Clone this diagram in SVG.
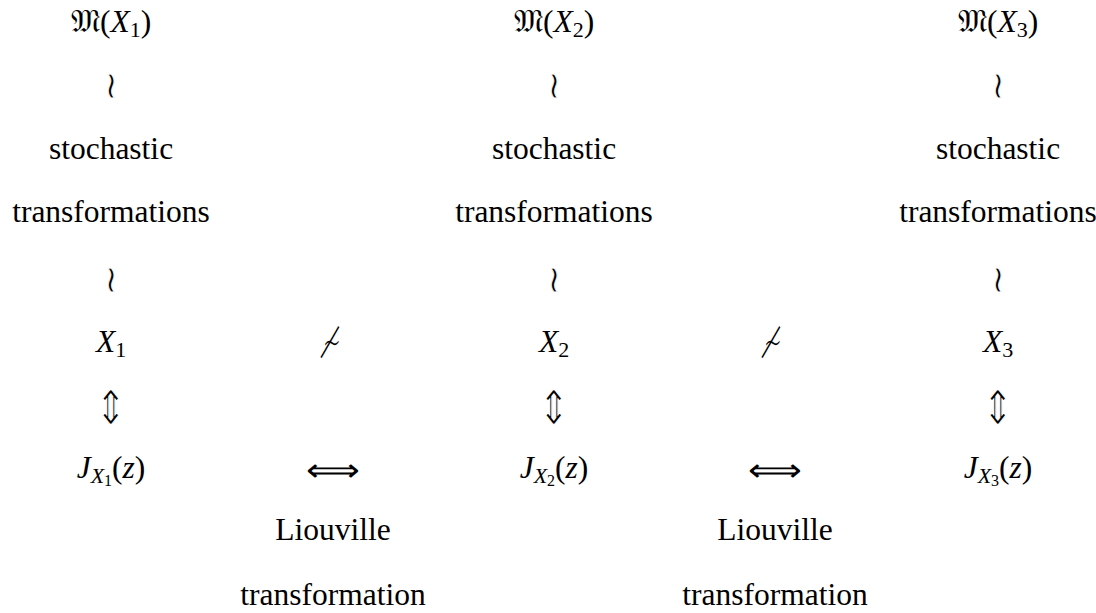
<svg xmlns="http://www.w3.org/2000/svg" width="1096" height="613" viewBox="0 0 1096 613">
<style>
text{font-family:'Liberation Serif','Times New Roman',serif;font-size:31.5px;fill:#000;text-anchor:middle}
.i{font-style:italic}
.sub{font-size:22px}
.ssub{font-size:16px}
text.sym{font-family:'DejaVu Sans',sans-serif;font-weight:200}
text.ud{font-size:47px;stroke:#fff;stroke-width:1.4}
text.wr{font-size:38px;stroke:#fff;stroke-width:0.8}
text.ns{font-size:40px}
text.lr{font-size:31.5px}
.frak{font-family:'DejaVu Serif','DejaVu Sans',serif}
</style>
<rect width="1096" height="613" fill="#fff"/>
<g id="col1">
<g id="M1"><text x="111" y="32"><tspan class="frak">𝔐</tspan>(<tspan class="i">X</tspan><tspan class="sub" dy="5">1</tspan><tspan dy="-5">)</tspan></text></g>
<g id="st1"><text x="111" y="159">stochastic</text><text x="111" y="222">transformations</text></g>
<g id="X1"><text x="111" y="352"><tspan class="i">X</tspan><tspan class="sub" dy="5">1</tspan></text></g>
<g id="J1"><text x="111" y="478"><tspan class="i">J</tspan><tspan class="i sub" dy="5">X</tspan><tspan class="ssub" dy="3">1</tspan><tspan dy="-8">(</tspan><tspan class="i">z</tspan>)</text></g>
</g>
<g id="col2">
<g id="M2"><text x="554" y="32"><tspan class="frak">𝔐</tspan>(<tspan class="i">X</tspan><tspan class="sub" dy="5">2</tspan><tspan dy="-5">)</tspan></text></g>
<g id="st2"><text x="554" y="159">stochastic</text><text x="554" y="222">transformations</text></g>
<g id="X2"><text x="554" y="352"><tspan class="i">X</tspan><tspan class="sub" dy="5">2</tspan></text></g>
<g id="J2"><text x="554" y="478"><tspan class="i">J</tspan><tspan class="i sub" dy="5">X</tspan><tspan class="ssub" dy="3">2</tspan><tspan dy="-8">(</tspan><tspan class="i">z</tspan>)</text></g>
</g>
<g id="col3">
<g id="M3"><text x="998" y="32"><tspan class="frak">𝔐</tspan>(<tspan class="i">X</tspan><tspan class="sub" dy="5">3</tspan><tspan dy="-5">)</tspan></text></g>
<g id="st3"><text x="998" y="159">stochastic</text><text x="998" y="222">transformations</text></g>
<g id="X3"><text x="998" y="352"><tspan class="i">X</tspan><tspan class="sub" dy="5">3</tspan></text></g>
<g id="J3"><text x="998" y="478"><tspan class="i">J</tspan><tspan class="i sub" dy="5">X</tspan><tspan class="ssub" dy="3">3</tspan><tspan dy="-8">(</tspan><tspan class="i">z</tspan>)</text></g>
</g>
<g id="L1"><text x="333" y="540">Liouville</text><text x="333" y="605">transformation</text></g>
<g id="L2"><text x="775" y="540">Liouville</text><text x="775" y="605">transformation</text></g>
<g id="connectors">
<text class="sym wr" x="111" y="98">≀</text>
<text class="sym wr" x="554" y="98">≀</text>
<text class="sym wr" x="998" y="98">≀</text>
<text class="sym wr" x="111" y="292">≀</text>
<text class="sym wr" x="554" y="292">≀</text>
<text class="sym wr" x="998" y="292">≀</text>
<text class="sym ud" transform="translate(111,424) scale(0.8,1)" x="0" y="0">⇕</text>
<text class="sym ud" transform="translate(554,424) scale(0.8,1)" x="0" y="0">⇕</text>
<text class="sym ud" transform="translate(998,424) scale(0.8,1)" x="0" y="0">⇕</text>
<text class="sym ns" transform="translate(332,357) scale(0.7,1)" x="0" y="0">≁</text>
<text class="sym ns" transform="translate(773,357) scale(0.7,1)" x="0" y="0">≁</text>
<text class="sym lr" x="333" y="481" textLength="54" lengthAdjust="spacingAndGlyphs">⟺</text>
<text class="sym lr" x="775" y="481" textLength="54" lengthAdjust="spacingAndGlyphs">⟺</text>
</g>
</svg>
